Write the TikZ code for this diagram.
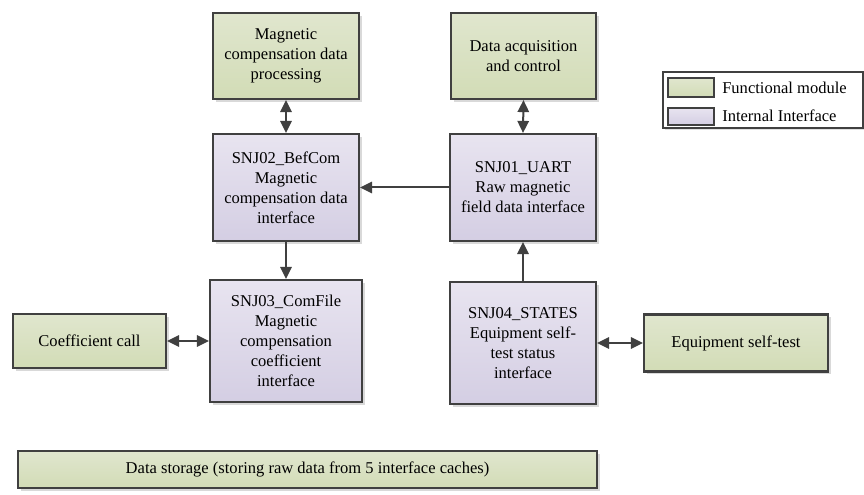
\documentclass[tikz,border=0pt]{standalone}
\usepackage{fontspec}
\setmainfont{Liberation Serif}
\usetikzlibrary{arrows.meta,shadows}

\definecolor{edgegray}{HTML}{404040}
\definecolor{modtop}{HTML}{E0E6CE}
\definecolor{modbot}{HTML}{D2DCB6}
\definecolor{iftop}{HTML}{E8E4F0}
\definecolor{ifbot}{HTML}{D4CEE3}

\tikzset{
  box/.style={draw=edgegray, line width=1.6pt, align=center, inner sep=2pt,
    font=\fontsize{12.4}{15}\selectfont,
    drop shadow={shadow xshift=2.2pt, shadow yshift=-2.2pt, fill=black, opacity=0.15}},
  module/.style={box, top color=modtop, bottom color=modbot},
  iface/.style={box, top color=iftop, bottom color=ifbot},
  link/.style={draw=edgegray, line width=1.5pt, -{Triangle[length=9pt,width=8.5pt]}},
  dlink/.style={draw=edgegray, line width=1.5pt,
    {Triangle[length=9pt,width=8.5pt]}-{Triangle[length=9pt,width=8.5pt]}},
  swatch/.style={draw=edgegray, line width=1.2pt},
  legendtext/.style={anchor=west, inner sep=0pt, font=\fontsize{12.4}{15}\selectfont}
}

\begin{document}
\begin{tikzpicture}[x=0.75pt, y=-0.75pt]
  \useasboundingbox (0,0) rectangle (864,495);

  % functional modules
  \node[module, minimum width=109.5pt, minimum height=64.5pt] (proc) at (286,56)
    {Magnetic\\compensation data\\processing};
  \node[module, minimum width=108.75pt, minimum height=64.5pt] (acq) at (523.5,56)
    {Data acquisition\\and control};
  \node[module, minimum width=114.75pt, minimum height=40.5pt] (coef) at (89.5,341)
    {Coefficient call};
  \node[module, minimum width=138pt, minimum height=42.75pt] (selftest) at (736,343)
    {Equipment self-test};
  \node[module, minimum width=434.25pt, minimum height=27.75pt] (storage) at (307.5,469.5)
    {Data storage (storing raw data from 5 interface caches)};

  % internal interfaces
  \node[iface, minimum width=109.5pt, minimum height=80.25pt] (befcom) at (286,187.5)
    {SNJ02\_BefCom\\Magnetic\\compensation data\\interface};
  \node[iface, minimum width=109.5pt, minimum height=80.25pt] (uart) at (523,187.5)
    {SNJ01\_UART\\Raw magnetic\\field data interface};
  \node[iface, minimum width=114pt, minimum height=91.5pt] (comfile) at (286,341)
    {SNJ03\_ComFile\\Magnetic\\compensation\\coefficient\\interface};
  \node[iface, minimum width=109.5pt, minimum height=91.5pt] (states) at (523,343)
    {SNJ04\_STATES\\Equipment self-\\test status\\interface};

  % connectors
  \draw[dlink] (proc.south) -- (befcom.north);
  \draw[dlink] (acq.south) -- (uart.north);
  \draw[link] (uart.west) -- (befcom.east);
  \draw[link] (befcom.south) -- (comfile.north);
  \draw[link] (states.north) -- (uart.south);
  \draw[dlink] (coef.east) -- (comfile.west);
  \draw[dlink] (states.east) -- (selftest.west);

  % legend
  \draw[draw=edgegray, line width=0.9pt, fill=white,
        drop shadow={shadow xshift=1.5pt, shadow yshift=-1.5pt, fill=black, opacity=0.12}]
    (663,72) rectangle (863,128);
  \draw[swatch, top color=modtop, bottom color=modbot] (668,78) rectangle (714,97);
  \draw[swatch, top color=iftop, bottom color=ifbot] (668,108) rectangle (714,125);
  \node[legendtext] (legmod) at (722,88) {Functional module};
  \node[legendtext] (legif) at (722,116) {Internal Interface};
\end{tikzpicture}
\end{document}
